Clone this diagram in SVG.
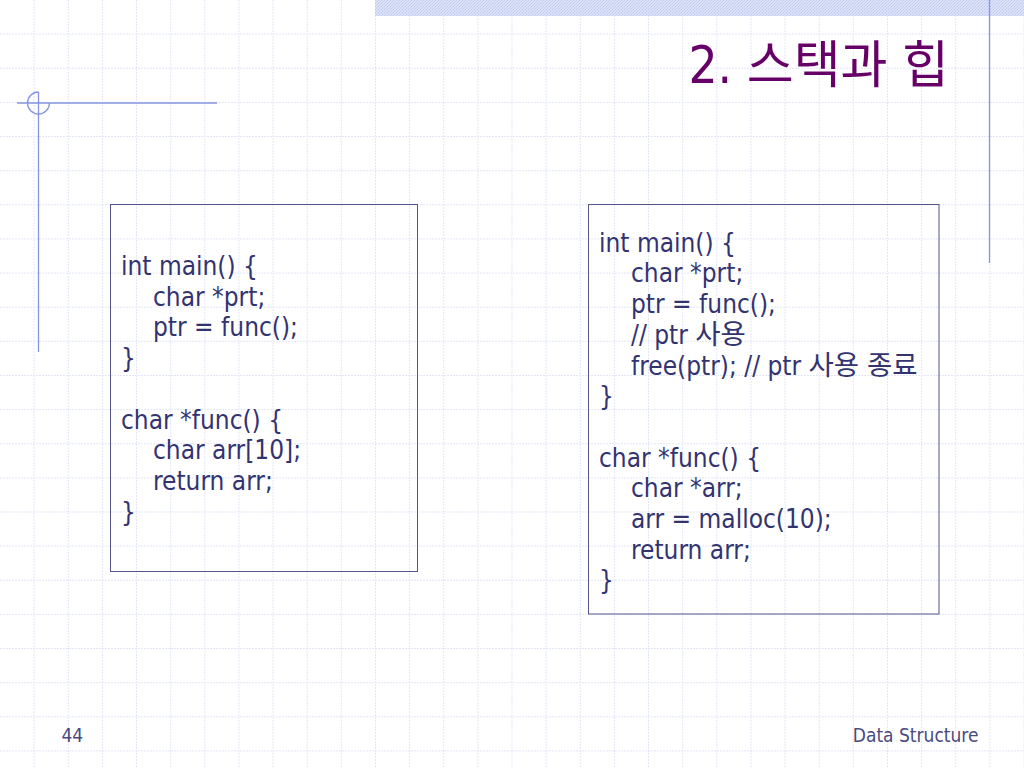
<svg xmlns="http://www.w3.org/2000/svg" width="1024" height="768" viewBox="0 0 1024 768">
<defs>
<pattern id="bandpat" patternUnits="userSpaceOnUse" width="3" height="3">
<rect width="3" height="3" fill="#dbe2f8"/>
<rect width="1" height="1" fill="#bfcbef"/>
<rect x="2" y="1" width="1" height="1" fill="#c8d2f2"/>
<rect x="1" y="2" width="1" height="1" fill="#c4cff1"/>
</pattern>
</defs>
<style>
.grid{stroke:#e3e6f7;stroke-width:1;stroke-dasharray:2 1;fill:none}
.deco{stroke:#8595e0;stroke-width:1.3;fill:none}
.box{fill:none;stroke:#55558a;stroke-width:1}
.code{font-family:"DejaVu Sans Condensed","DejaVu Sans","Noto Sans CJK KR",sans-serif;font-stretch:condensed;font-size:26px;fill:#333370}
.ko{font-size:27.5px}
.title{font-family:"DejaVu Sans Condensed","DejaVu Sans","Noto Sans CJK KR",sans-serif;font-stretch:condensed;font-size:51px;fill:#660066}
.foot{font-family:"DejaVu Sans Condensed","DejaVu Sans",sans-serif;font-stretch:condensed;font-size:19px;fill:#4a4a80}
</style>
<rect width="1024" height="768" fill="#ffffff"/>
<g id="background">
<path class="grid" d="M34.13 0V768M68.27 0V768M102.4 0V768M136.53 0V768M170.67 0V768M204.8 0V768M238.93 0V768M273.07 0V768M307.2 0V768M341.33 0V768M375.47 0V768M409.6 0V768M443.73 0V768M477.87 0V768M512 0V768M546.13 0V768M580.27 0V768M614.4 0V768M648.53 0V768M682.67 0V768M716.8 0V768M750.93 0V768M785.07 0V768M819.2 0V768M853.33 0V768M887.47 0V768M921.6 0V768M955.73 0V768M989.87 0V768M1024 0V768
M0 34.13H1024M0 68.27H1024M0 102.4H1024M0 136.53H1024M0 170.67H1024M0 204.8H1024M0 238.93H1024M0 273.07H1024M0 307.2H1024M0 341.33H1024M0 375.47H1024M0 409.6H1024M0 443.73H1024M0 477.87H1024M0 512H1024M0 546.13H1024M0 580.27H1024M0 614.4H1024M0 648.53H1024M0 682.67H1024M0 716.8H1024M0 750.93H1024"/>
<rect x="375" y="0" width="649" height="16" fill="url(#bandpat)"/>
<line class="deco" x1="989.5" y1="0" x2="989.5" y2="263"/>
<line class="deco" x1="17" y1="103" x2="217" y2="103"/>
<line class="deco" x1="38.5" y1="92" x2="38.5" y2="352"/>
<path class="deco" d="M38.5 92A11 11 0 1 0 49.5 103"/>
</g>
<g id="title">
<text class="title" x="949" y="83" text-anchor="end">2. 스택과 힙</text>
</g>
<g id="code-stack">
<rect class="box" x="110.5" y="204.5" width="307" height="367"/>
<text class="code">
<tspan x="121" y="275">int main() {</tspan>
<tspan x="153" y="305.7">char *prt;</tspan>
<tspan x="153" y="336.4">ptr = func();</tspan>
<tspan x="121" y="367.1">}</tspan>
<tspan x="121" y="428.5">char *func() {</tspan>
<tspan x="153" y="459.2">char arr[10];</tspan>
<tspan x="153" y="489.9">return arr;</tspan>
<tspan x="121" y="520.6">}</tspan>
</text>
</g>
<g id="code-heap">
<rect class="box" x="588.5" y="204.5" width="350.5" height="409.5"/>
<text class="code">
<tspan x="599" y="251.7">int main() {</tspan>
<tspan x="631" y="282.4">char *prt;</tspan>
<tspan x="631" y="313.1">ptr = func();</tspan>
<tspan x="631" y="343.8">// ptr <tspan class="ko">사용</tspan></tspan>
<tspan x="631" y="374.5">free(ptr); // ptr <tspan class="ko">사용 종료</tspan></tspan>
<tspan x="599" y="405.2">}</tspan>
<tspan x="599" y="466.6">char *func() {</tspan>
<tspan x="631" y="497.3">char *arr;</tspan>
<tspan x="631" y="528">arr = malloc(10);</tspan>
<tspan x="631" y="558.7">return arr;</tspan>
<tspan x="599" y="589.4">}</tspan>
</text>
</g>
<g id="connectors"/>
<g id="footer">
<text class="foot" x="61.5" y="742">44</text>
<text class="foot" x="978.5" y="742" text-anchor="end">Data Structure</text>
</g>
</svg>
